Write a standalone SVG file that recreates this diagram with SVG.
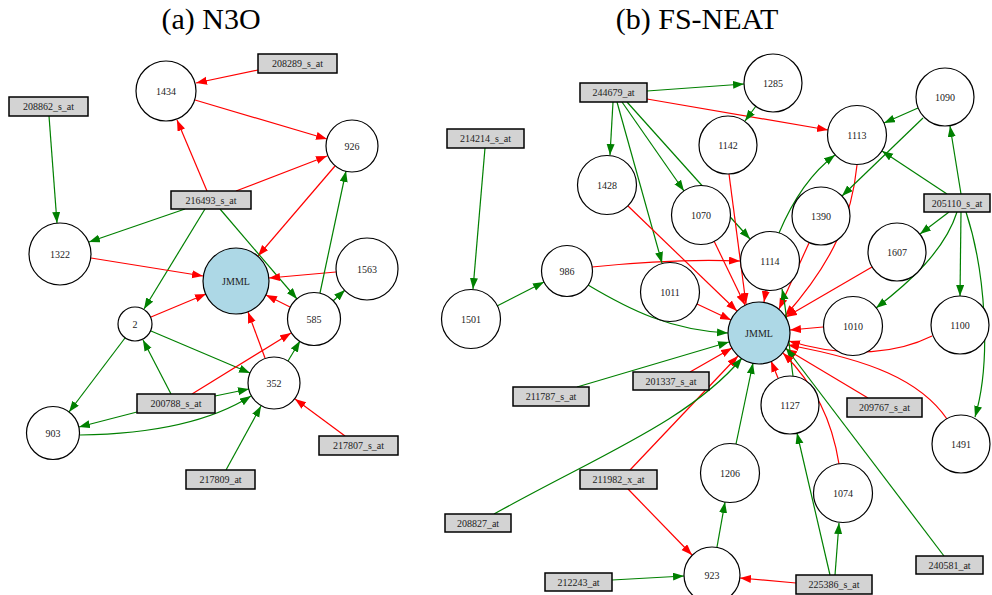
<svg xmlns="http://www.w3.org/2000/svg" width="992" height="595" viewBox="0 0 992 595">
<style>
.t{font-family:"Liberation Serif","Times New Roman",serif;font-size:30px;fill:#000;text-anchor:middle}
.l{font-family:"Liberation Serif","Times New Roman",serif;font-size:10px;fill:#222;text-anchor:middle;dominant-baseline:central}
.c{fill:#fff;stroke:#000;stroke-width:1.2}
.j{fill:#add8e6;stroke:#000;stroke-width:1.2}
.b{fill:#d3d3d3;stroke:#000;stroke-width:1.5}
.r{fill:none;stroke:#ff0000;stroke-width:1.2;marker-end:url(#ar)}
.g{fill:none;stroke:#008000;stroke-width:1.2;marker-end:url(#ag)}
</style>
<defs>
<marker id="ar" markerUnits="userSpaceOnUse" markerWidth="12" markerHeight="9" refX="11" refY="4" orient="auto"><path d="M0,0 L11,4 L0,8 z" fill="#ff0000"/></marker>
<marker id="ag" markerUnits="userSpaceOnUse" markerWidth="12" markerHeight="9" refX="11" refY="4" orient="auto"><path d="M0,0 L11,4 L0,8 z" fill="#008000"/></marker>
</defs>
<rect width="992" height="595" fill="#fff"/>
<text class="t" x="211" y="29">(a) N3O</text>
<text class="t" x="697" y="29">(b) FS-NEAT</text>
<g id="edges">
<path class="r" d="M258,70 L196,83"/>
<path class="r" d="M195,100 L327,139"/>
<path class="r" d="M207,191 L177,120"/>
<path class="r" d="M236,191 L327,156"/>
<path class="r" d="M335,166 L258,256"/>
<path class="g" d="M49,116 L57,223"/>
<path class="g" d="M185,209 L89,242"/>
<path class="g" d="M205,209 L144,309"/>
<path class="g" d="M220,209 L297,299"/>
<path class="r" d="M91,258 L203,276"/>
<path class="r" d="M336,272 L269,278"/>
<path class="r" d="M290,307 L266,295"/>
<path class="g" d="M320,293 L346,171"/>
<path class="g" d="M333,301 L345,290"/>
<path class="r" d="M151,317 L206,294"/>
<path class="g" d="M151,331 L250,373"/>
<path class="g" d="M125,338 L69,412"/>
<path class="g" d="M171,394 L143,340"/>
<path class="r" d="M192,394 L291,333"/>
<path class="g" d="M215,396 L249,389"/>
<path class="g" d="M137,412 L79,427"/>
<path class="g" d="M80,435 C150,434 210,422 251,396"/>
<path class="r" d="M265,358 L248,312"/>
<path class="g" d="M288,361 L300,341"/>
<path class="r" d="M345,436 L295,399"/>
<path class="g" d="M226,470 L261,406"/>

<path class="g" d="M485,148 L473,289"/>
<path class="g" d="M497,306 L544,282"/>
<path class="r" d="M592,267 C640,262 690,259 740,261"/>
<path class="g" d="M588,285 C630,310 670,330 728,333"/>
<path class="g" d="M647,91 L744,84"/>
<path class="r" d="M647,99 L828,130"/>
<path class="g" d="M613,102 L610,155"/>
<path class="g" d="M617,102 L662,263"/>
<path class="g" d="M622,102 L684,191"/>
<path class="g" d="M627,102 L750,239"/>
<path class="g" d="M756,106 L745,121"/>
<path class="r" d="M628,206 L737,311"/>
<path class="r" d="M729,174 L746,304"/>
<path class="r" d="M714,241 L745,305"/>
<path class="r" d="M697,304 L731,320"/>
<path class="r" d="M766,290 L764,302"/>
<path class="g" d="M779,233 C795,195 815,170 835,155"/>
<path class="r" d="M809,243 L779,309"/>
<path class="r" d="M857,165 C852,215 835,260 785,316"/>
<path class="g" d="M918,108 L884,123"/>
<path class="g" d="M923,118 L842,196"/>
<path class="g" d="M947,194 L882,151"/>
<path class="g" d="M961,194 L950,126"/>
<path class="g" d="M949,212 L920,234"/>
<path class="g" d="M957,212 C945,250 910,282 876,308"/>
<path class="g" d="M961,212 L960,296"/>
<path class="g" d="M966,212 C985,270 992,360 975,417"/>
<path class="r" d="M872,267 L786,317"/>
<path class="r" d="M823,327 L790,330"/>
<path class="r" d="M932,336 C900,352 850,360 789,341"/>
<path class="r" d="M947,419 C920,380 870,360 788,345"/>
<path class="r" d="M868,398 L786,349"/>
<path class="r" d="M778,378 L771,361"/>
<path class="g" d="M793,376 C788,340 787,310 782,289"/>
<path class="g" d="M944,556 L786,348"/>
<path class="r" d="M839,464 C832,420 815,385 783,353"/>
<path class="g" d="M835,575 L839,523"/>
<path class="g" d="M830,575 L797,433"/>
<path class="r" d="M796,583 L740,578"/>
<path class="g" d="M717,547 L725,502"/>
<path class="g" d="M736,444 L753,363"/>
<path class="r" d="M628,489 L692,555"/>
<path class="r" d="M630,470 L738,356"/>
<path class="g" d="M494,514 C600,455 690,420 742,358"/>
<path class="g" d="M577,387 L729,342"/>
<path class="r" d="M690,372 L732,348"/>
<path class="g" d="M612,580 L684,576"/>
</g>

<g id="n208289"><rect class="b" x="258" y="54" width="79" height="19"/><text class="l" x="297.5" y="63.5">208289_s_at</text></g>
<g id="n1434"><circle class="c" cx="166" cy="91" r="30"/><text class="l" x="166" y="91">1434</text></g>
<g id="n208862"><rect class="b" x="9" y="97" width="79" height="19"/><text class="l" x="48.5" y="106.5">208862_s_at</text></g>
<g id="n926"><circle class="c" cx="352" cy="146" r="26"/><text class="l" x="352" y="146">926</text></g>
<g id="n216493"><rect class="b" x="171" y="191" width="80" height="18"/><text class="l" x="211" y="200">216493_s_at</text></g>
<g id="n1322"><circle class="c" cx="60" cy="254" r="31"/><text class="l" x="60" y="254">1322</text></g>
<g id="nJMMLa"><circle class="j" cx="236" cy="281" r="33"/><text class="l" x="236" y="281">JMML</text></g>
<g id="n1563"><circle class="c" cx="367" cy="269" r="31"/><text class="l" x="367" y="269">1563</text></g>
<g id="n585"><circle class="c" cx="314" cy="319" r="26.5"/><text class="l" x="314" y="319">585</text></g>
<g id="n2"><circle class="c" cx="135" cy="324" r="17"/><text class="l" x="135" y="324">2</text></g>
<g id="n352"><circle class="c" cx="274" cy="383" r="26"/><text class="l" x="274" y="383">352</text></g>
<g id="n200788"><rect class="b" x="137" y="394" width="78" height="19"/><text class="l" x="176" y="403.5">200788_s_at</text></g>
<g id="n903"><circle class="c" cx="53" cy="433" r="26.5"/><text class="l" x="53" y="433">903</text></g>
<g id="n217807"><rect class="b" x="319" y="436" width="79" height="19"/><text class="l" x="358.5" y="445.5">217807_s_at</text></g>
<g id="n217809"><rect class="b" x="186" y="470" width="69" height="19"/><text class="l" x="220.5" y="479.5">217809_at</text></g>

<g id="n214214"><rect class="b" x="447" y="129" width="77" height="19"/><text class="l" x="485.5" y="138.5">214214_s_at</text></g>
<g id="n244679"><rect class="b" x="580" y="83" width="67" height="19"/><text class="l" x="613.5" y="92.5">244679_at</text></g>
<g id="n1285"><circle class="c" cx="773" cy="83" r="29"/><text class="l" x="773" y="83">1285</text></g>
<g id="n1142"><circle class="c" cx="728" cy="145" r="29"/><text class="l" x="728" y="145">1142</text></g>
<g id="n1113"><circle class="c" cx="857" cy="135" r="29.5"/><text class="l" x="857" y="135">1113</text></g>
<g id="n1090"><circle class="c" cx="945" cy="97" r="29"/><text class="l" x="945" y="97">1090</text></g>
<g id="n1428"><circle class="c" cx="607" cy="185" r="29.5"/><text class="l" x="607" y="185">1428</text></g>
<g id="n1070"><circle class="c" cx="701" cy="215" r="29.5"/><text class="l" x="701" y="215">1070</text></g>
<g id="n1390"><circle class="c" cx="821" cy="216" r="29"/><text class="l" x="821" y="216">1390</text></g>
<g id="n205110"><rect class="b" x="924" y="194" width="66" height="18"/><text class="l" x="957" y="203">205110_s_at</text></g>
<g id="n1607"><circle class="c" cx="897" cy="252" r="29"/><text class="l" x="897" y="252">1607</text></g>
<g id="n1114"><circle class="c" cx="770" cy="261" r="29.5"/><text class="l" x="770" y="261">1114</text></g>
<g id="n1501"><circle class="c" cx="471" cy="319" r="29.5"/><text class="l" x="471" y="319">1501</text></g>
<g id="n986"><circle class="c" cx="567" cy="271" r="25.5"/><text class="l" x="567" y="271">986</text></g>
<g id="n1011"><circle class="c" cx="670" cy="292" r="29.5"/><text class="l" x="670" y="292">1011</text></g>
<g id="nJMMLb"><circle class="j" cx="759" cy="333" r="31"/><text class="l" x="759" y="333">JMML</text></g>
<g id="n1010"><circle class="c" cx="853" cy="326" r="29.5"/><text class="l" x="853" y="326">1010</text></g>
<g id="n1100"><circle class="c" cx="960" cy="325" r="29"/><text class="l" x="960" y="325">1100</text></g>
<g id="n1127"><circle class="c" cx="790" cy="405" r="29"/><text class="l" x="790" y="405">1127</text></g>
<g id="n209767"><rect class="b" x="847" y="398" width="75" height="19"/><text class="l" x="884.5" y="407.5">209767_s_at</text></g>
<g id="n1491"><circle class="c" cx="961" cy="444" r="29"/><text class="l" x="961" y="444">1491</text></g>
<g id="n201337"><rect class="b" x="633" y="372" width="76" height="18"/><text class="l" x="671" y="381">201337_s_at</text></g>
<g id="n211787"><rect class="b" x="513" y="387" width="76" height="19"/><text class="l" x="551" y="396.5">211787_s_at</text></g>
<g id="n1206"><circle class="c" cx="730" cy="473" r="29.5"/><text class="l" x="730" y="473">1206</text></g>
<g id="n1074"><circle class="c" cx="843" cy="493" r="29.5"/><text class="l" x="843" y="493">1074</text></g>
<g id="n211982"><rect class="b" x="580" y="470" width="77" height="19"/><text class="l" x="618.5" y="479.5">211982_x_at</text></g>
<g id="n208827"><rect class="b" x="445" y="514" width="66" height="18"/><text class="l" x="478" y="523">208827_at</text></g>
<g id="n212243"><rect class="b" x="545" y="573" width="67" height="18"/><text class="l" x="578.5" y="582">212243_at</text></g>
<g id="n923"><circle class="c" cx="712" cy="575" r="28"/><text class="l" x="712" y="575">923</text></g>
<g id="n225386"><rect class="b" x="796" y="575" width="76" height="19"/><text class="l" x="834" y="584.5">225386_s_at</text></g>
<g id="n240581"><rect class="b" x="916" y="556" width="67" height="18"/><text class="l" x="949.5" y="565">240581_at</text></g>
</svg>
